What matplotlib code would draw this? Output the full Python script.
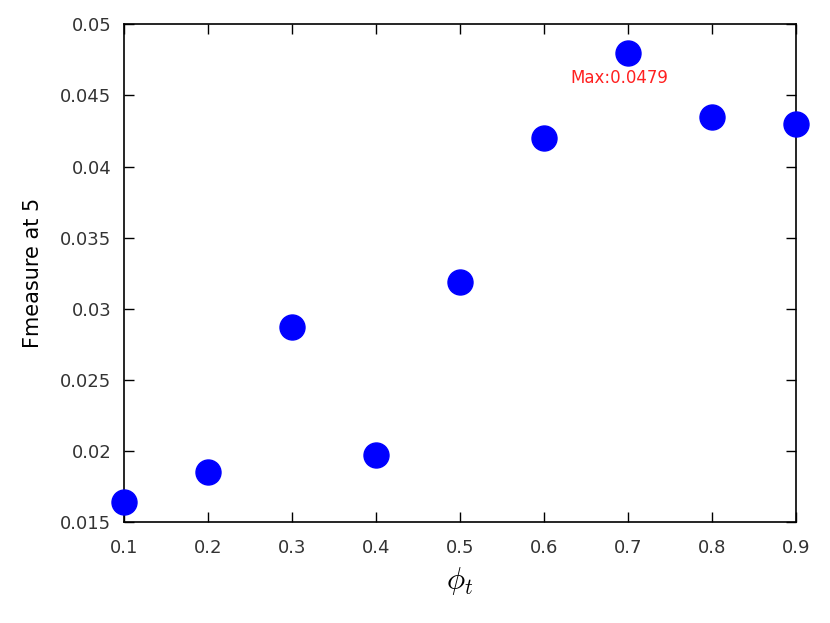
import matplotlib
matplotlib.use("Agg")
import matplotlib.pyplot as plt

plt.rcParams['mathtext.fontset'] = 'cm'

phi = [0.1, 0.2, 0.3, 0.4, 0.5, 0.6, 0.7, 0.8, 0.9]
fmeasure = [0.0164, 0.0185, 0.0287, 0.0197, 0.0319, 0.0420, 0.0480, 0.0435, 0.0430]
xticks = [0.1, 0.2, 0.3, 0.4, 0.5, 0.6, 0.7, 0.8, 0.9]
yticks = [0.015, 0.02, 0.025, 0.03, 0.035, 0.04, 0.045, 0.05]
ytick_labels = ["0.015", "0.02", "0.025", "0.03", "0.035", "0.04", "0.045", "0.05"]
max_label = "Max:0.0479"

fig = plt.figure(figsize=(8.3, 6.23), dpi=100)
ax = fig.add_axes([0.149, 0.162, 0.810, 0.799])
ax.plot(phi, fmeasure, 'o', color='#0000ff', markersize=18, clip_on=False, zorder=3)
ax.set_xlim(0.1, 0.9)
ax.set_ylim(0.015, 0.05)
ax.set_xticks(xticks)
ax.set_xticklabels([f"{v:g}" for v in xticks])
ax.set_yticks(yticks)
ax.set_yticklabels(ytick_labels)
ax.tick_params(direction='in', length=7, width=1, top=True, right=True,
               labelsize=13, labelcolor='#333333')
ax.tick_params(axis='x', pad=12)
ax.tick_params(axis='y', pad=9)
for s in ax.spines.values():
    s.set_linewidth(1.2)
ax.set_ylabel("Fmeasure at 5", fontsize=15, labelpad=12)
ax.set_xlabel(r"$\phi_t$", fontsize=22, labelpad=6)
ax.text(0.69, 0.0462, max_label, color='#ff2020', fontsize=12, ha='center', va='center')
fig.savefig("out.png", dpi=100)
